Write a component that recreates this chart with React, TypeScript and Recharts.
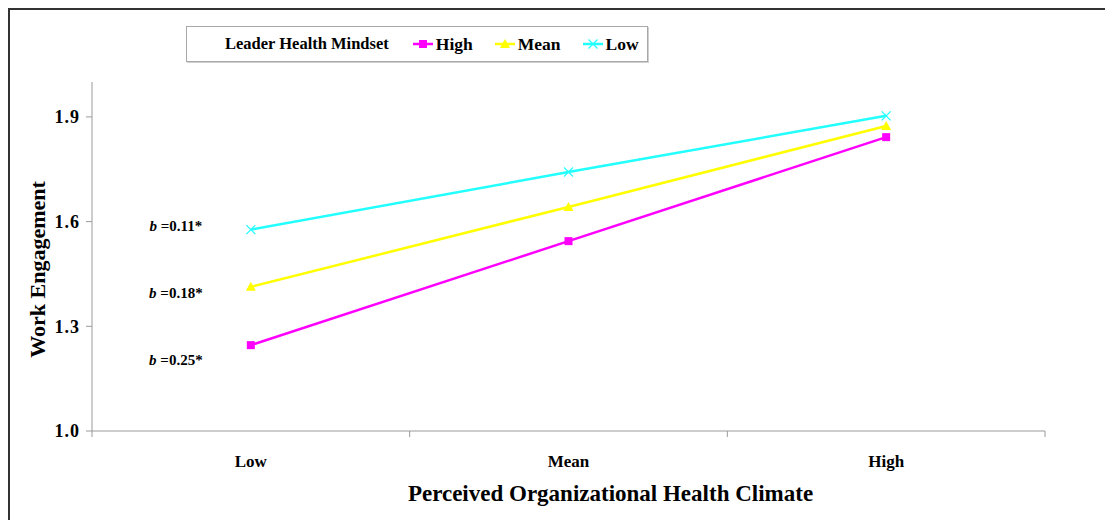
import React from "react";
import { LineChart, Line, XAxis, YAxis, ReferenceDot, Label } from "recharts";

// ---------------------------------------------------------------------------
// Data
// ---------------------------------------------------------------------------

const climateLevels = ["Low", "Mean", "High"];
const highMindset = [1.246, 1.544, 1.842];
const meanMindset = [1.413, 1.642, 1.874];
const lowMindset = [1.577, 1.742, 1.903];
const yTicks = [1.0, 1.3, 1.6, 1.9];
const slopeTexts = ["=0.11*", "=0.18*", "=0.25*"];
const slopeTextY = [1.587, 1.395, 1.203];
const slopeTextX = 0.264;

const FONT = '"Liberation Serif", "Times New Roman", serif';
const AXIS_GREY = "#9a9a9a";

const series = [
  { key: "high", name: "High", color: "#ff00ff", values: highMindset, marker: "square" },
  { key: "mean", name: "Mean", color: "#ffff00", values: meanMindset, marker: "triangle" },
  { key: "low", name: "Low", color: "#22ffff", values: lowMindset, marker: "cross" },
];

const data = climateLevels.map((level, i) => ({
  x: i + 0.5,
  level,
  high: highMindset[i],
  mean: meanMindset[i],
  low: lowMindset[i],
}));

// ---------------------------------------------------------------------------
// Markers
// ---------------------------------------------------------------------------

function Marker({ cx, cy, kind, color }: any) {
  if (cx == null || cy == null) return null;
  if (kind === "square") {
    return <rect x={cx - 4} y={cy - 4} width={8} height={8} fill={color} />;
  }
  if (kind === "triangle") {
    return (
      <polygon
        points={`${cx},${cy - 5} ${cx + 5},${cy + 4} ${cx - 5},${cy + 4}`}
        fill={color}
      />
    );
  }
  return (
    <g stroke={color} strokeWidth={1.3}>
      <line x1={cx - 4.5} y1={cy - 4.5} x2={cx + 4.5} y2={cy + 4.5} />
      <line x1={cx - 4.5} y1={cy + 4.5} x2={cx + 4.5} y2={cy - 4.5} />
    </g>
  );
}

function SlopeLabel({ viewBox, text }: any) {
  if (!viewBox) return null;
  return (
    <text
      x={viewBox.x}
      y={viewBox.y}
      textAnchor="middle"
      dominantBaseline="central"
      fontFamily={FONT}
      fontSize={15}
      fontWeight="bold"
      fill="#000"
    >
      <tspan fontStyle="italic">b</tspan> {text}
    </text>
  );
}

// ---------------------------------------------------------------------------
// Legend (boxed, with title)
// ---------------------------------------------------------------------------

function LegendBox() {
  return (
    <div
      style={{
        position: "absolute",
        left: 176,
        top: 16,
        width: 462,
        height: 36,
        boxSizing: "border-box",
        border: "1px solid #a8a8a8",
        boxShadow: "1px 1px 0 #d0d0d0",
        background: "#fff",
        display: "flex",
        alignItems: "center",
        paddingLeft: 38,
        fontFamily: FONT,
        fontWeight: "bold",
        fontSize: 16.5,
        color: "#000",
      }}
    >
      <span>Leader Health Mindset</span>
      {series.map((s, i) => (
        <span
          key={s.key}
          style={{ display: "flex", alignItems: "center", marginLeft: i === 0 ? 24 : 22, fontSize: 17.5 }}
        >
          <svg width={20} height={12} style={{ marginRight: 3 }}>
            <line x1={0} y1={6} x2={20} y2={6} stroke={s.color} strokeWidth={2.5} />
            <Marker cx={10} cy={6} kind={s.marker} color={s.color} />
          </svg>
          {s.name}
        </span>
      ))}
    </div>
  );
}

// ---------------------------------------------------------------------------
// Main
// ---------------------------------------------------------------------------

export default function App() {
  return (
    <div
      style={{
        position: "relative",
        width: 1105,
        height: 512,
        boxSizing: "border-box",
        borderLeft: "2px solid #333",
        borderTop: "2px solid #333",
        background: "#fff",
      }}
    >
      <div style={{ position: "absolute", left: -2, top: -2 }}>
        <LineChart
          width={1105}
          height={512}
          data={data}
          margin={{ top: 74, right: 68, left: 0, bottom: 0 }}
        >
          <YAxis
            type="number"
            domain={[1.0, 2.0]}
            ticks={yTicks}
            tickFormatter={(v: number) => v.toFixed(1)}
            width={84}
            stroke={AXIS_GREY}
            tickSize={6}
            tickMargin={6}
            tick={{ fill: "#000", fontFamily: FONT, fontSize: 18, fontWeight: "bold", letterSpacing: 1 }}
            allowDataOverflow
          >
            <Label
              content={(props: any) => {
                const vb = props.viewBox;
                if (!vb) return null;
                const cx = vb.x + 29;
                const cy = vb.y + vb.height / 2 + 13;
                return (
                  <text
                    x={cx}
                    y={cy}
                    transform={`rotate(-90 ${cx} ${cy})`}
                    textAnchor="middle"
                    dominantBaseline="central"
                    fontFamily={FONT}
                    fontSize={22}
                    fontWeight="bold"
                    fill="#000"
                  >
                    Work Engagement
                  </text>
                );
              }}
            />
          </YAxis>

          {/* category boundary ticks */}
          <XAxis
            dataKey="x"
            type="number"
            domain={[0, 3]}
            ticks={[0, 1, 2, 3]}
            tickFormatter={() => ""}
            stroke={AXIS_GREY}
            tickSize={6}
            height={6}
            allowDataOverflow
          />
          {/* category labels + axis title */}
          <XAxis
            xAxisId="lbl"
            dataKey="x"
            type="number"
            domain={[0, 3]}
            ticks={[0.5, 1.5, 2.5]}
            tickFormatter={(v: number) => climateLevels[Math.floor(v)]}
            axisLine={false}
            tickLine={false}
            tickMargin={12}
            height={83}
            tick={{ fill: "#000", fontFamily: FONT, fontSize: 17, fontWeight: "bold" }}
            allowDataOverflow
          >
            <Label
              value="Perceived Organizational Health Climate"
              position="insideBottom"
              offset={19}
              dx={42}
              fill="#000"
              fontFamily={FONT}
              fontSize={23}
              fontWeight="bold"
            />
          </XAxis>

          {series.map((s) => (
            <Line
              key={s.key}
              dataKey={s.key}
              name={s.name}
              type="linear"
              stroke={s.color}
              strokeWidth={2.5}
              dot={<Marker kind={s.marker} color={s.color} />}
              activeDot={false}
              isAnimationActive={false}
            />
          ))}

          {slopeTexts.map((t, i) => (
            <ReferenceDot
              key={t}
              x={slopeTextX}
              y={slopeTextY[i]}
              r={0}
              fill="none"
              stroke="none"
              label={<SlopeLabel text={t} />}
            />
          ))}
        </LineChart>
      </div>
      <LegendBox />
    </div>
  );
}
